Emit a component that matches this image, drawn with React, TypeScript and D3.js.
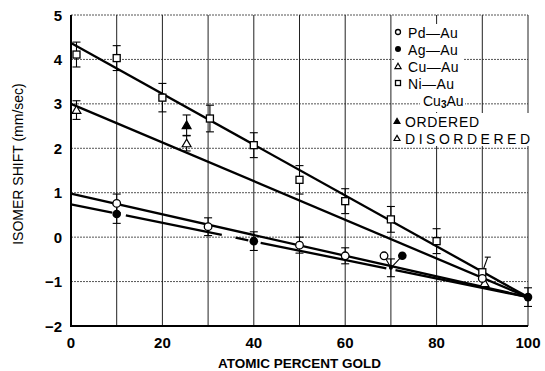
import React from "react";
import * as d3 from "d3";

// Fitted lines: shift at 0 % gold, all converging on pure gold
const fitNames = ["Ni", "Cu", "Pd", "Ag"];
const fitStart = [4.37, 3.0, 0.98, 0.74];
const fitEnd = -1.35;
// Ag–Au fit is drawn broken around its points
const agSegments: [number, number][] = [[0, 9], [12, 33], [36, 38.8], [41.5, 69], [71, 100]];

// Ni–Au (open squares)
const niX = [1.2, 10, 20, 30.4, 40, 50, 60, 70, 80, 90];
const niY = [4.11, 4.03, 3.14, 2.67, 2.07, 1.29, 0.81, 0.4, -0.09, -0.79];
const niErr = [0.28, 0.28, 0.32, 0.3, 0.28, 0.32, 0.28, 0.29, 0.28, 0];

// Pd–Au (open circles)
const pdX = [10, 30, 50, 60, 68.5, 90];
const pdY = [0.76, 0.235, -0.18, -0.42, -0.42, -0.93];
const pdErr = [0.21, 0.2, 0.18, 0.18, 0, 0];

// Ag–Au (filled circles)
const agX = [10, 40, 72.5, 100];
const agY = [0.52, -0.09, -0.42, -1.35];
const agErr = [0.21, 0.21, 0, 0.21];

// Cu–Au (open triangles)
const cuX = [1.2, 25.3, 90.5];
const cuY = [2.86, 2.11, -1.04];
const cuErr = [0.21, 0.17, 0];

// Cu3Au ordered (filled triangle)
const ordX = [25.3];
const ordY = [2.52];
const ordErr = [0.23];

// shared point at 70 % with leaders to the offset Pd and Ag symbols
const midX = 70;
const midY = -0.69;
const midErr = 0.2;

const xTicks = [0, 20, 40, 60, 80, 100];
const xGrid = [0, 10, 20, 30, 40, 50, 60, 70, 80, 90, 100];
const yTicks = [-2, -1, 0, 1, 2, 3, 4, 5];

const legendRows = ["Pd—Au", "Ag—Au", "Cu—Au", "Ni—Au"];
const legendKinds = ["circle", "dot", "tri", "square"];

const W = 545;
const H = 371;

export default function App() {
  const x = d3.scaleLinear().domain([0, 100]).range([71, 528]);
  const y = d3.scaleLinear().domain([-2, 5]).range([326, 15]);
  const line = d3.line<[number, number]>().x((d) => x(d[0])).y((d) => y(d[1]));
  const fitAt = (i: number, v: number) => fitStart[i] + (fitEnd - fitStart[i]) * (v / 100);

  const font = "'Liberation Sans', Arial, sans-serif";
  const cap = 4;

  const errBar = (cx: number, cy: number, e: number, key: string) =>
    e > 0 ? (
      <g key={key} stroke="#000" strokeWidth={1.1}>
        <line x1={x(cx)} x2={x(cx)} y1={y(cy + e)} y2={y(cy - e)} />
        <line x1={x(cx) - cap} x2={x(cx) + cap} y1={y(cy + e)} y2={y(cy + e)} />
        <line x1={x(cx) - cap} x2={x(cx) + cap} y1={y(cy - e)} y2={y(cy - e)} />
      </g>
    ) : null;

  const marker = (kind: string, px: number, py: number, s: number, key: string) => {
    if (kind === "circle")
      return <circle key={key} cx={px} cy={py} r={s} fill="#fff" stroke="#000" strokeWidth={1.3} />;
    if (kind === "dot") return <circle key={key} cx={px} cy={py} r={s} fill="#000" />;
    if (kind === "square")
      return (
        <rect key={key} x={px - s} y={py - s} width={2 * s} height={2 * s} fill="#fff" stroke="#000" strokeWidth={1.3} />
      );
    const t = d3.symbol(d3.symbolTriangle, s * s * 2.6)();
    return (
      <path
        key={key}
        d={t || ""}
        transform={`translate(${px},${py + 0.8})`}
        fill={kind === "ftri" ? "#000" : "#fff"}
        stroke="#000"
        strokeWidth={1.2}
      />
    );
  };

  return (
    <svg width={W} height={H} style={{ display: "block", position: "absolute", left: 0, top: 0 }} fontFamily={font}>
      <rect width={W} height={H} fill="#fff" />

      {/* grid */}
      {yTicks.map((t) => (
        <line key={"hy" + t} x1={x(0)} x2={x(100)} y1={y(t)} y2={y(t)} stroke="#555" strokeWidth={1} strokeDasharray="2 1" />
      ))}
      {xGrid.map((t) => (
        <line key={"vx" + t} x1={x(t)} x2={x(t)} y1={y(5)} y2={y(-2)} stroke="#222" strokeWidth={1} />
      ))}
      <line x1={x(0)} x2={x(0)} y1={y(5)} y2={y(-2) + 1} stroke="#000" strokeWidth={2} />
      <line x1={x(0)} x2={x(100)} y1={y(-2)} y2={y(-2)} stroke="#000" strokeWidth={2} />

      {/* legend backgrounds */}
      <rect x={394} y={24} width={70} height={71} fill="#fff" />
      <rect x={420} y={95} width={45} height={17} fill="#fff" />
      <rect x={394} y={113} width={142} height={33} fill="#fff" />

      {/* fitted lines */}
      {fitNames.map((n, i) =>
        n === "Ag"
          ? agSegments.map((s, j) => (
              <path
                key={n + j}
                d={line([
                  [s[0], fitAt(i, s[0])],
                  [s[1], fitAt(i, s[1])],
                ]) || ""}
                stroke="#000"
                strokeWidth={2.3}
                fill="none"
              />
            ))
          : (
              <path
                key={n}
                d={line([
                  [0, fitStart[i]],
                  [100, fitEnd],
                ]) || ""}
                stroke="#000"
                strokeWidth={2.3}
                fill="none"
              />
            )
      )}

      {/* error bars */}
      {niX.map((v, i) => errBar(v, niY[i], niErr[i], "ne" + i))}
      {pdX.map((v, i) => errBar(v, pdY[i], pdErr[i], "pe" + i))}
      {agX.map((v, i) => errBar(v, agY[i], agErr[i], "ae" + i))}
      {cuX.map((v, i) => errBar(v, cuY[i], cuErr[i], "ce" + i))}
      {ordX.map((v, i) => errBar(v, ordY[i], ordErr[i], "oe" + i))}
      {errBar(midX, midY, midErr, "mid")}

      {/* leaders at 70 % and the slanted bar at 90 % */}
      <g stroke="#000" strokeWidth={1.1}>
        <line x1={x(pdX[4])} y1={y(pdY[4])} x2={x(midX)} y2={y(midY)} />
        <line x1={x(agX[2])} y1={y(agY[2])} x2={x(midX)} y2={y(midY)} />
        <line x1={x(niX[9])} y1={y(niY[9])} x2={x(91.2)} y2={y(-0.45)} />
        <line x1={x(91.2) - 3} y1={y(-0.45)} x2={x(91.2) + 3} y2={y(-0.45)} />
      </g>
      <circle cx={x(midX)} cy={y(midY)} r={2} fill="#000" />

      {/* points */}
      {niX.map((v, i) => marker("square", x(v), y(niY[i]), 3.5, "n" + i))}
      {cuX.map((v, i) => marker("tri", x(v), y(cuY[i]), 3.6, "c" + i))}
      {ordX.map((v, i) => marker("ftri", x(v), y(ordY[i]), 3.6, "o" + i))}
      {pdX.map((v, i) => marker("circle", x(v), y(pdY[i]), 3.8, "p" + i))}
      {agX.map((v, i) => marker("dot", x(v), y(agY[i]), 4.3, "a" + i))}

      {/* legend */}
      {legendRows.map((r, i) => (
        <g key={r}>
          {marker(legendKinds[i], 398, 33 + i * 17 - 1, legendKinds[i] === "dot" ? 3 : 2.5, "lm" + i)}
          <text x={408} y={33 + i * 17 + 5} fontSize={14} fill="#000" letterSpacing={0.4}>
            {r}
          </text>
        </g>
      ))}
      <text x={423} y={106} fontSize={14} fill="#000">
        Cu<tspan fontSize={10} dy={2} fontWeight="bold">3</tspan>
        <tspan dy={-2}>Au</tspan>
      </text>
      {marker("ftri", 397, 121, 2.4, "lo")}
      <text x={405} y={127} fontSize={14} fill="#000" textLength={74} lengthAdjust="spacing">
        ORDERED
      </text>
      {marker("tri", 397, 138, 2.4, "ld")}
      <text x={405} y={144} fontSize={14} fill="#000" textLength={125} lengthAdjust="spacing">
        DISORDERED
      </text>

      {/* tick labels */}
      {yTicks.map((t) => (
        <text key={"yl" + t} x={62} y={y(t) + 5.5} fontSize={15} fontWeight="bold" textAnchor="end" fill="#000">
          {t < 0 ? "−" + Math.abs(t) : t}
        </text>
      ))}
      {xTicks.map((t) => (
        <text key={"xl" + t} x={x(t)} y={348} fontSize={15} fontWeight="bold" textAnchor="middle" fill="#000">
          {t}
        </text>
      ))}

      {/* axis titles */}
      <text x={x(50)} y={368} fontSize={13.5} fontWeight="bold" textAnchor="middle" fill="#000">
        ATOMIC PERCENT GOLD
      </text>
      <text
        transform={`translate(23,${164}) rotate(-90)`}
        fontSize={14}
        textAnchor="middle"
        fill="#000"
      >
        ISOMER SHIFT (mm/sec)
      </text>
    </svg>
  );
}
